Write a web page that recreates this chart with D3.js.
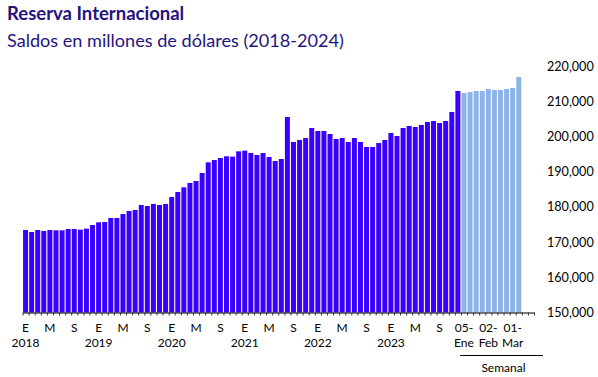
<!DOCTYPE html>
<html>
<head>
<meta charset="utf-8">
<script src="https://cdn.jsdelivr.net/npm/d3@7"></script>
<style>
    body { margin: 0; background: #fff; }
    svg { display: block; font-family: Lato, "Open Sans", sans-serif; }
</style>
</head>
<body>
<div id="chart"></div>
<script>

// saldos mensuales (millones de dolares), ene 2018 - dic 2023
var years = ['2018', '2019', '2020', '2021', '2022', '2023'];
var month_letters = ['E', 'F', 'M', 'A', 'M', 'J', 'J', 'A', 'S', 'O', 'N', 'D'];
var monthly_values = [
    173440, 172870, 173440, 173150, 173440, 173350, 173350, 173720, 173700, 173530, 173820, 174860,
    175620, 175710, 176850, 176850, 177980, 178830, 179120, 180540, 180260, 180830, 180540, 180830,
    182810, 184230, 185560, 186790, 187360, 189630, 192660, 193320, 193890, 194380, 194280, 195790,
    195980, 195310, 194740, 195310, 194180, 193040, 193610, 205540, 198440, 199010, 199570, 202410,
    201560, 201560, 200710, 199290, 199570, 198440, 199570, 198440, 197020, 197020, 198150, 199010,
    200990, 200140, 202410, 202980, 202700, 203270, 204120, 204400, 203840, 204400, 206960, 212930
];

// saldos semanales 2024
var week_labels = ['05-Ene', '12-Ene', '19-Ene', '26-Ene', '02-Feb', '09-Feb', '16-Feb', '23-Feb', '01-Mar', '08-Mar', '15-Mar', '22-Mar'];
var week_shown = ['05-Ene', '02-Feb', '01-Mar'];
var weekly_values = [212360, 212640, 212930, 212930, 213490, 213210, 213210, 213490, 213780, 216900];

var y_ticks = [150000, 160000, 170000, 180000, 190000, 200000, 210000, 220000];

var width = 598, height = 377;
var color_month = '#3a00ff';
var color_week = '#8db4e8';
var title_color = '#24137f';

// build categories
var categories = [];
years.forEach(function (yr) {
    month_letters.forEach(function (m, i) {
        categories.push({key: yr + '-' + i, month: i, year: yr, weekly: false});
    });
});
week_labels.forEach(function (w) {
    categories.push({key: 'w-' + w, week: w, weekly: true});
});

var bars = [];
monthly_values.forEach(function (v, i) {
    bars.push({key: categories[i].key, value: v, weekly: false});
});
weekly_values.forEach(function (v, i) {
    bars.push({key: 'w-' + week_labels[i], value: v, weekly: true});
});

var x = d3.scaleBand()
    .domain(categories.map(function (c) { return c.key; }))
    .range([22.5, 534])
    .paddingInner(0.18)
    .paddingOuter(0.09);

var x_idx = d3.scaleLinear().domain([0, categories.length]).range([22.5, 534]);

var y = d3.scaleLinear().domain([150000, 220000]).range([312.5, 66.1]);

var svg = d3.select('#chart').append('svg')
    .attr('width', width).attr('height', height);

svg.append('text')
    .attr('x', 7).attr('y', 20)
    .attr('fill', title_color)
    .attr('font-weight', 'bold')
    .attr('font-size', 18.5)
    .text('Reserva Internacional');

svg.append('text')
    .attr('x', 7).attr('y', 47)
    .attr('fill', title_color)
    .attr('font-size', 18.1)
    .text('Saldos en millones de dólares (2018-2024)');

svg.append('g').selectAll('rect')
    .data(bars)
    .enter().append('rect')
    .attr('x', function (d) { return x(d.key); })
    .attr('width', x.bandwidth())
    .attr('y', function (d) { return y(d.value); })
    .attr('height', function (d) { return y(150000) - y(d.value); })
    .attr('fill', function (d) { return d.weekly ? color_week : color_month; });

// eje x con marcas entre categorias
var x_axis = svg.append('g')
    .attr('transform', 'translate(0,' + y(150000) + ')')
    .call(d3.axisBottom(x_idx)
        .tickValues(d3.range(categories.length + 1))
        .tickFormat('')
        .tickSize(3)
        .tickSizeOuter(0));
x_axis.select('.domain').attr('stroke', '#000').attr('stroke-width', 1.2);
x_axis.selectAll('.tick line').attr('stroke', '#333');

var y_axis = svg.append('g')
    .attr('transform', 'translate(534,0)')
    .call(d3.axisRight(y)
        .tickValues(y_ticks)
        .tickSize(0)
        .tickPadding(13)
        .tickFormat(d3.format(',')));
y_axis.select('.domain').remove();
y_axis.selectAll('text')
    .attr('font-family', 'Lato, sans-serif')
    .attr('font-size', 12.6)
    .attr('fill', '#000');

var labels = svg.append('g')
    .attr('font-size', 12)
    .attr('fill', '#000')
    .attr('text-anchor', 'middle');

categories.forEach(function (c) {
    var cx = x(c.key) + x.bandwidth() / 2;
    if (!c.weekly) {
        if (c.month % 4 == 0) {
            labels.append('text').attr('x', cx).attr('y', 332).text(month_letters[c.month]);
        }
        if (c.month == 0) {
            labels.append('text').attr('x', cx).attr('y', 347).text(c.year);
        }
    } else if (week_shown.indexOf(c.week) > -1) {
        var parts = c.week.split('-');
        labels.append('text').attr('x', cx).attr('y', 332).text(parts[0] + '-');
        labels.append('text').attr('x', cx).attr('y', 347).text(parts[1]);
    }
});

var week_start = x_idx(monthly_values.length) - 1;
svg.append('line')
    .attr('x1', week_start).attr('x2', 543)
    .attr('y1', 355.5).attr('y2', 355.5)
    .attr('stroke', '#000').attr('stroke-width', 1.2);

svg.append('text')
    .attr('x', (week_start + 543) / 2 + 2).attr('y', 372)
    .attr('text-anchor', 'middle')
    .attr('font-size', 12)
    .text('Semanal');

</script>
</body>
</html>
